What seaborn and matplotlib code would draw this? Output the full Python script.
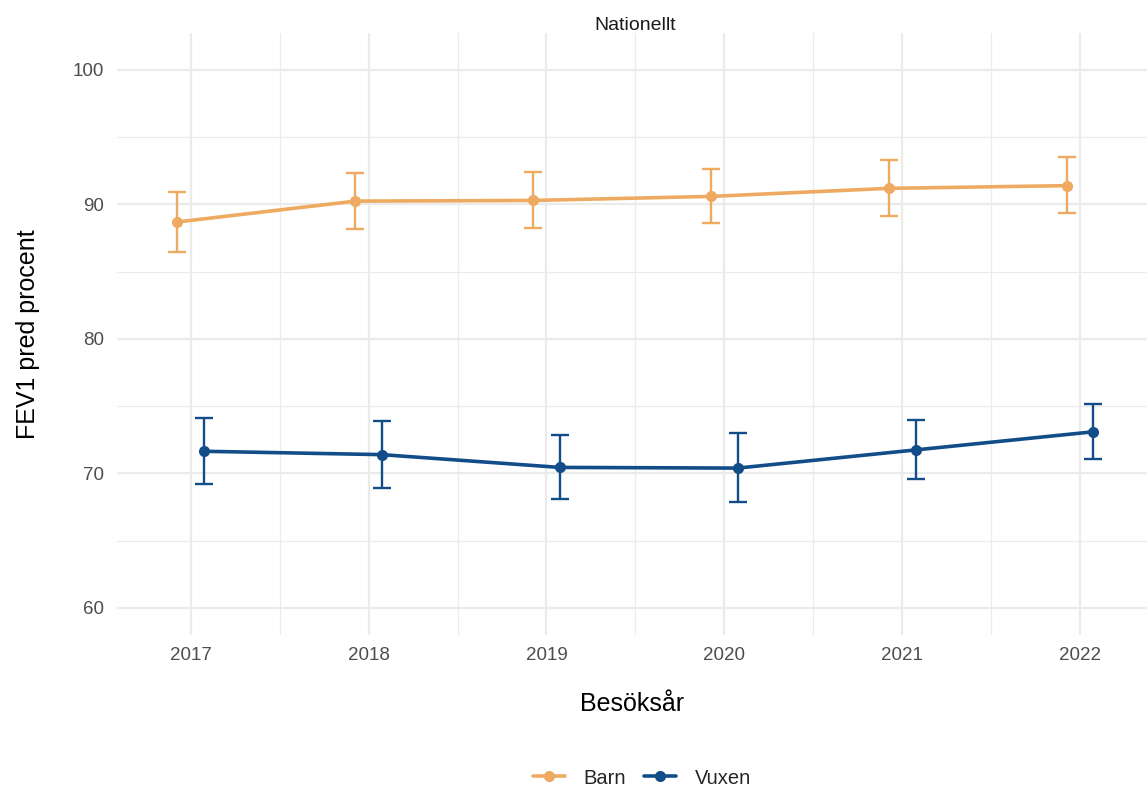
import numpy as np
import pandas as pd
import matplotlib
matplotlib.use("Agg")
import matplotlib.pyplot as plt
from matplotlib.lines import Line2D
import seaborn as sns

# Mean FEV1 % predicted per visit year, with confidence limits
years = [2017, 2018, 2019, 2020, 2021, 2022]
barn_mean = [88.7, 90.25, 90.3, 90.6, 91.2, 91.4]
barn_low = [86.45, 88.15, 88.25, 88.6, 89.15, 89.35]
barn_high = [90.95, 92.35, 92.4, 92.65, 93.3, 93.5]
vuxen_mean = [71.65, 71.4, 70.45, 70.4, 71.75, 73.1]
vuxen_low = [69.2, 68.95, 68.1, 67.9, 69.6, 71.05]
vuxen_high = [74.1, 73.9, 72.85, 73.0, 73.95, 75.15]
groups = ["Barn", "Vuxen"]
colors = {"Barn": "#EEAA60", "Vuxen": "#124D8A"}
dodge = {"Barn": -0.075, "Vuxen": 0.075}

frames = []
for g, m, lo, hi in [("Barn", barn_mean, barn_low, barn_high),
                     ("Vuxen", vuxen_mean, vuxen_low, vuxen_high)]:
    frames.append(pd.DataFrame({"år": years, "grupp": g, "värde": m,
                                "låg": lo, "hög": hi}))
df = pd.concat(frames, ignore_index=True)
df["xpos"] = df["år"] + df["grupp"].map(dodge)

sns.set_theme(style="white")
plt.rcParams["font.family"] = ["Liberation Sans", "DejaVu Sans"]

fig = plt.figure(figsize=(11.47, 7.89), dpi=100)
W, H = 1147, 789
ax = fig.add_axes([117 / W, 1 - 635 / H, (1147 - 117) / W, (635 - 33) / H])

# grid lines (major + minor)
grid_col = "#EBEBEB"
for yv in [60, 70, 80, 90, 100]:
    ax.axhline(yv, color=grid_col, lw=1.6, zorder=0)
for yv in [65, 75, 85, 95]:
    ax.axhline(yv, color=grid_col, lw=0.9, zorder=0)
for xv in years:
    ax.axvline(xv, color=grid_col, lw=1.6, zorder=0)
for xv in [2017.5, 2018.5, 2019.5, 2020.5, 2021.5]:
    ax.axvline(xv, color=grid_col, lw=0.9, zorder=0)

for g in groups:
    sub = df[df["grupp"] == g]
    ax.errorbar(sub["xpos"], sub["värde"],
                yerr=[sub["värde"] - sub["låg"], sub["hög"] - sub["värde"]],
                fmt="none", ecolor=colors[g], elinewidth=1.7, capsize=6.5,
                capthick=1.7, zorder=2)

sns.lineplot(data=df, x="xpos", y="värde", hue="grupp", palette=colors,
             marker="o", markersize=8, markeredgewidth=0, linewidth=2.6,
             ax=ax, legend=False, zorder=3, estimator=None, sort=True)

x_left = 2016.586
ax.set_xlim(x_left, x_left + (1147 - 117) / 177.9)
ax.set_ylim(57.99, 102.75)
ax.set_xticks(years)
ax.set_xticklabels([str(y) for y in years])
ax.set_yticks([60, 70, 80, 90, 100])
ax.tick_params(axis="both", length=0, labelsize=13.5, labelcolor="#4D4D4D")
ax.tick_params(axis="x", pad=9)
ax.tick_params(axis="y", pad=9)
for s in ax.spines.values():
    s.set_visible(False)
ax.set_facecolor("white")

ax.set_xlabel("Besöksår", fontsize=18, color="black", labelpad=20)
ax.set_ylabel("FEV1 pred procent", fontsize=18, color="black", labelpad=24)
fig.text(635 / W, 1 - 25 / H, "Nationellt", ha="center", va="center",
         fontsize=14, color="#1A1A1A")

handles = [Line2D([0], [0], color=colors[g], lw=2.6, marker="o",
                  markersize=8, markeredgewidth=0) for g in groups]
fig.legend(handles, groups, loc="center", bbox_to_anchor=(642 / W, 1 - 778 / H),
           ncol=2, frameon=False, fontsize=14.5, handlelength=1.6,
           columnspacing=0.9, handletextpad=0.9)

fig.savefig("out.png", dpi=100, facecolor="white")
